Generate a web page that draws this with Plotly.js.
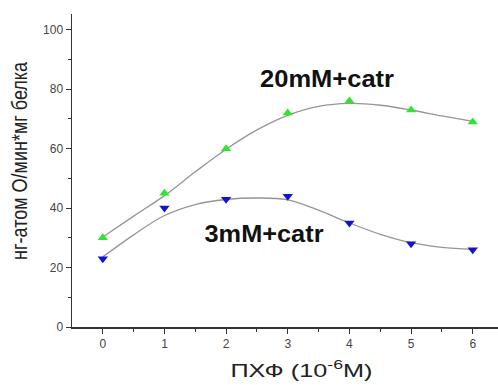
<!DOCTYPE html>
<html><head><meta charset="utf-8">
<script src="https://cdn.plot.ly/plotly-3.0.1.min.js"></script>
<style>html,body{margin:0;padding:0;background:#fff}#c{width:498px;height:385px}</style>
</head><body><div id="c"></div>
<script>
const xPoints = [0, 1, 2, 3, 4, 5, 6];
const green20mM = [30, 45, 60, 72, 76, 73, 69];
const blue3mM = [23, 40, 43, 44, 35, 28, 26];
const xFit = [0, 0.5, 1, 1.5, 2, 2.5, 3, 3.5, 4, 4.5, 5, 5.5, 6];
const greenFit = [30.3, 37.3, 44.2, 52.2, 59.8, 66.3, 71.2, 74.2, 75.2, 74.6, 73, 71, 69.2];
const blueFit = [23.6, 31, 37.5, 41.2, 42.9, 43.4, 42.8, 39.3, 35, 31.2, 28.4, 26.8, 26.1];
const labels = ["20mM+catr", "3mM+catr"];
const yTickVals = [0, 20, 40, 60, 80, 100];

const traces = [
  {x: xFit, y: greenFit, mode: 'lines', line: {color: '#959595', width: 1.3, shape: 'spline'}, hoverinfo: 'skip'},
  {x: xFit, y: blueFit, mode: 'lines', line: {color: '#959595', width: 1.3, shape: 'spline'}, hoverinfo: 'skip'},
  {x: xPoints, y: green20mM, mode: 'markers', marker: {symbol: 'triangle-up', size: 9, color: '#2ee62e'}},
  {x: xPoints, y: blue3mM, mode: 'markers', marker: {symbol: 'triangle-down', size: 9, color: '#1212d2'}}
];

const FF = 'Arial, Liberation Sans, sans-serif';
const axFont = {family: FF, size: 12, color: '#444'};
const layout = {
  width: 498, height: 385,
  margin: {l: 72, r: 0, t: 14, b: 58},
  showlegend: false,
  paper_bgcolor: '#fff', plot_bgcolor: '#fff',
  xaxis: {
    range: [-0.5, 6.41], tickvals: xPoints, ticks: 'outside', ticklen: 5, tickcolor: '#333',
    showgrid: false, zeroline: false, showline: true, linecolor: '#333', linewidth: 1.5,
    tickfont: axFont,
    minor: {tickvals: [0.5, 1.5, 2.5, 3.5, 4.5, 5.5], ticks: 'outside', ticklen: 3, tickcolor: '#333'}
  },
  yaxis: {
    range: [0, 105.3], tickvals: yTickVals, ticks: 'outside', ticklen: 5, tickcolor: '#333',
    showgrid: false, zeroline: false, showline: true, linecolor: '#333', linewidth: 1.5,
    tickfont: axFont,
    minor: {tickvals: [10, 30, 50, 70, 90], ticks: 'outside', ticklen: 3, tickcolor: '#333'}
  },
  annotations: [
    {x: 3.63, y: 83.7, xref: 'x', yref: 'y', text: '<b>' + labels[0] + '</b>', showarrow: false,
     xanchor: 'center', yanchor: 'middle', font: {family: FF, size: 24, color: '#111'}},
    {x: 2.61, y: 31.2, xref: 'x', yref: 'y', text: '<b>' + labels[1] + '</b>', showarrow: false,
     xanchor: 'center', yanchor: 'middle', font: {family: FF, size: 23, color: '#111'}},
    {xref: 'paper', yref: 'paper', text: 'ПХФ (10<sup>-6</sup>M)', showarrow: false,
     xanchor: 'center', yanchor: 'middle', font: {family: FF, size: 19, color: '#222'}},
    {xref: 'paper', yref: 'paper', text: 'нг-атом О/мин*мг белка', showarrow: false, textangle: -90,
     xanchor: 'center', yanchor: 'middle', font: {family: FF, size: 22, color: '#222'}}
  ]
};
const pw = 498 - 72, ph = 385 - 14 - 58;
layout.annotations[2].x = (301 - 72) / pw; layout.annotations[2].y = (385 - 58 - 369) / ph;
layout.annotations[3].x = (19 - 72) / pw; layout.annotations[3].y = (385 - 58 - 161) / ph;
const targetLengths = [134, 119, 142, 198];
Plotly.newPlot('c', traces, layout, {displayModeBar: false, staticPlot: true}).then(function (gd) {
  const texts = gd.querySelectorAll('.annotation-text');
  texts.forEach(function (t, i) {
    if (targetLengths[i]) {
      t.setAttribute('textLength', targetLengths[i]);
      t.setAttribute('lengthAdjust', 'spacingAndGlyphs');
    }
  });
});
</script>
</body></html>
